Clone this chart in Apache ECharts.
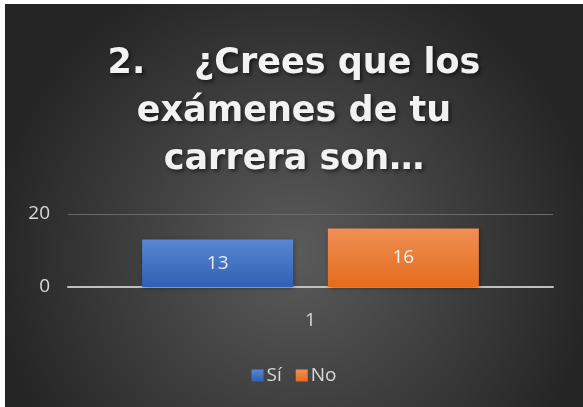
<!DOCTYPE html>
<html>
<head>
<meta charset="utf-8">
<script src="https://cdn.jsdelivr.net/npm/echarts@6/dist/echarts.min.js"></script>
<style>
body{margin:0;background:#fff;}
#chart{position:absolute;left:5px;top:4px;width:578px;height:403px;}
</style>
</head>
<body>
<div id="chart"></div>
<script>
var categories = ['1'];
var seriesNames = ['Sí', 'No'];
var siValues = [13];
var noValues = [16];
var yTicks = [0, 20];

var myChart = echarts.init(document.getElementById('chart'));

function barGradient(top, bottom) {
    return new echarts.graphic.LinearGradient(0, 0, 0, 1, [
        {offset: 0, color: top},
        {offset: 1, color: bottom}
    ]);
}

var option = {
    color: ['#4472c4', '#ed7d31'],
    backgroundColor: new echarts.graphic.RadialGradient(0.5, 0.62, 0.75, [
        {offset: 0, color: '#5b5b5b'},
        {offset: 1, color: '#252525'}
    ]),
    title: {
        text: '2.    ¿Crees que los\nexámenes de tu\ncarrera son…',
        left: 'center',
        top: 31,
        textStyle: {
            fontFamily: 'DejaVu Sans',
            fontWeight: 'bold',
            fontSize: 35,
            lineHeight: 48,
            color: '#f2f2f2',
            textShadowColor: 'rgba(0,0,0,0.6)',
            textShadowBlur: 4,
            textShadowOffsetX: 2,
            textShadowOffsetY: 2
        }
    },
    legend: {
        data: seriesNames,
        left: 'center',
        top: 357,
        itemWidth: 12,
        itemHeight: 12,
        itemGap: 14,
        icon: 'rect',
        textStyle: {color: '#d9d9d9', fontSize: 19, fontFamily: 'Open Sans', padding: [0, 0, 0, -2]}
    },
    grid: {left: 63, right: 30, top: 210, bottom: 120},
    xAxis: {
        type: 'category',
        data: categories,
        axisLine: {lineStyle: {color: '#bfbfbf', width: 2}},
        axisTick: {show: false},
        axisLabel: {color: '#d9d9d9', fontSize: 19, fontFamily: 'Open Sans', margin: 24}
    },
    yAxis: {
        type: 'value',
        min: yTicks[0],
        max: yTicks[yTicks.length - 1],
        interval: 20,
        axisLine: {show: false},
        axisTick: {show: false},
        axisLabel: {color: '#d9d9d9', fontSize: 19, fontFamily: 'Open Sans', margin: 18},
        splitLine: {lineStyle: {color: '#6a6a6a', width: 1}}
    },
    series: [
        {
            name: seriesNames[0],
            type: 'bar',
            data: siValues,
            barWidth: 151,
            barGap: '23%',
            itemStyle: {
                color: barGradient('#5a86d2', '#2f60b5'),
                shadowColor: 'rgba(0,0,0,0.45)',
                shadowBlur: 5,
                shadowOffsetX: 1,
                shadowOffsetY: 1
            },
            label: {show: true, position: 'inside', color: '#e8e8e8', fontSize: 19, fontFamily: 'Open Sans'}
        },
        {
            name: seriesNames[1],
            type: 'bar',
            data: noValues,
            barWidth: 151,
            itemStyle: {
                color: barGradient('#f08f55', '#e46c1c'),
                shadowColor: 'rgba(0,0,0,0.45)',
                shadowBlur: 5,
                shadowOffsetX: 1,
                shadowOffsetY: 1
            },
            label: {show: true, position: 'inside', color: '#f2f2f2', fontSize: 19, fontFamily: 'Open Sans'}
        }
    ]
};
myChart.setOption(option);
</script>
</body>
</html>
